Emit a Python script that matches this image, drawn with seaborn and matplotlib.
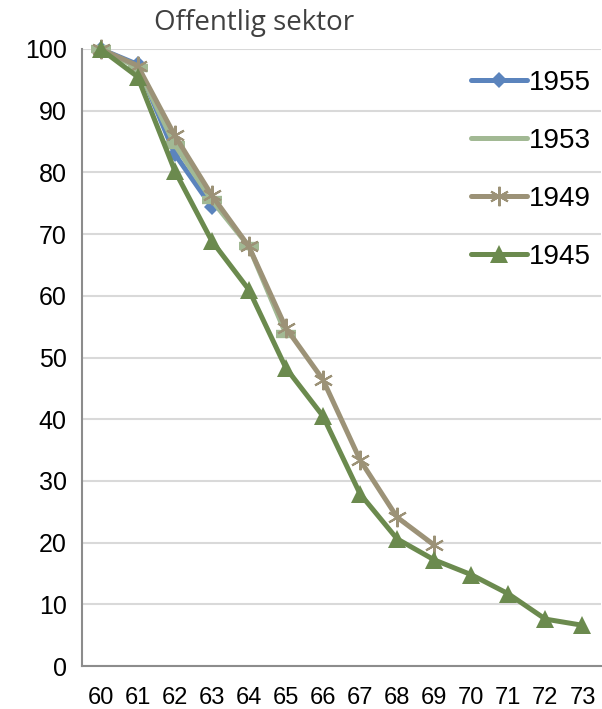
import numpy as np
import pandas as pd
import matplotlib
matplotlib.use('Agg')
import matplotlib.pyplot as plt
import seaborn as sns
from matplotlib.lines import Line2D

# ages on the x axis
ages = [60, 61, 62, 63, 64, 65, 66, 67, 68, 69, 70, 71, 72, 73]

# share still working (%) per cohort
y1955 = [100, 97.5, 83, 74.4]
y1953 = [100, 97, 84.5, 75.5, 68, 53.8]
y1949 = [100, 97.3, 86, 76.3, 68, 54.8, 46.4, 33.4, 24.1, 19.6]
y1945 = [100, 95.5, 80.3, 68.9, 61, 48.3, 40.5, 27.9, 20.6, 17.2, 14.8, 11.7, 7.6, 6.6]

cohorts = ['1955', '1953', '1949', '1945']
series = {'1955': y1955, '1953': y1953, '1949': y1949, '1945': y1945}

colors = {'1955': '#5b84bd', '1953': '#a2b994', '1949': '#9c9277', '1945': '#6b8a4e'}
markers = {'1955': 'D', '1953': '_', '1949': (6, 2, 0), '1945': '^'}
msizes = {'1955': 8, '1953': 14, '1949': 14, '1945': 13}

rows = []
for c in cohorts:
    for i, v in enumerate(series[c]):
        rows.append({'pos': i, 'value': v, 'cohort': c})
df = pd.DataFrame(rows)

sns.set_style('white')
plt.rcParams['font.family'] = ['Liberation Sans', 'DejaVu Sans']

fig = plt.figure(figsize=(6.02, 7.09), dpi=100)
ax = fig.add_axes([82 / 602, 1 - 666 / 709, (601 - 82) / 602, (666 - 49) / 709])

for c in cohorts:
    d = df[df['cohort'] == c]
    kw = dict(marker=markers[c], markersize=msizes[c], markeredgecolor=colors[c],
              markerfacecolor=colors[c])
    if c == '1953':
        kw['markeredgewidth'] = 6
    elif c == '1949':
        kw['markeredgewidth'] = 1.5
    else:
        kw['markeredgewidth'] = 0
    sns.lineplot(data=d, x='pos', y='value', ax=ax, color=colors[c], lw=3.6,
                 label=c, clip_on=False, solid_capstyle='round', **kw)

ax.set_ylim(0, 100)
ax.set_xlim(-0.5, 13.5)
ax.set_yticks(range(0, 101, 10))
ax.set_xticks(np.arange(-0.5, 13.6, 1))
ax.set_xticklabels([])
ax.set_xticks(range(len(ages)), minor=True)
ax.set_xticklabels([str(a) for a in ages], minor=True)
ax.tick_params(axis='x', which='major', length=6, width=1.5, color='#8c8c8c', direction='out')
ax.tick_params(axis='x', which='minor', length=0, labelsize=17, pad=15, labelcolor='black')
ax.tick_params(axis='y', length=6, width=1.5, color='#8c8c8c', direction='out',
               labelsize=18, pad=5, labelcolor='black')
ax.yaxis.grid(True, color='#d9d9d9', lw=1.5)
ax.set_axisbelow(True)
ax.set_xlabel('')
ax.set_ylabel('')
for s in ['top', 'right']:
    ax.spines[s].set_visible(False)
for s in ['left', 'bottom']:
    ax.spines[s].set_color('#8c8c8c')
    ax.spines[s].set_linewidth(1.5)

ax.get_legend().remove()
handles = []
for c in cohorts:
    if c == '1953':
        handles.append(Line2D([], [], color=colors[c], lw=3.6, solid_capstyle='round'))
    else:
        handles.append(Line2D([], [], color=colors[c], lw=3.6, solid_capstyle='round',
                              marker=markers[c], markersize=msizes[c],
                              markerfacecolor=colors[c], markeredgecolor=colors[c],
                              markeredgewidth=1.5 if c == '1949' else 0))
fig.legend(handles, cohorts, loc='upper left', bbox_to_anchor=(471 / 602, 1 - 70 / 709),
           frameon=False, fontsize=20, handlelength=2.0, handletextpad=0.1,
           labelspacing=1.15, borderpad=0, borderaxespad=0, labelcolor='black')

fig.text(254 / 602, 1 - 23 / 709, 'Offentlig sektor', ha='center', va='center',
         fontsize=20, color='#404040', family=['Open Sans', 'DejaVu Sans'])

fig.savefig('out.png', dpi=100)
